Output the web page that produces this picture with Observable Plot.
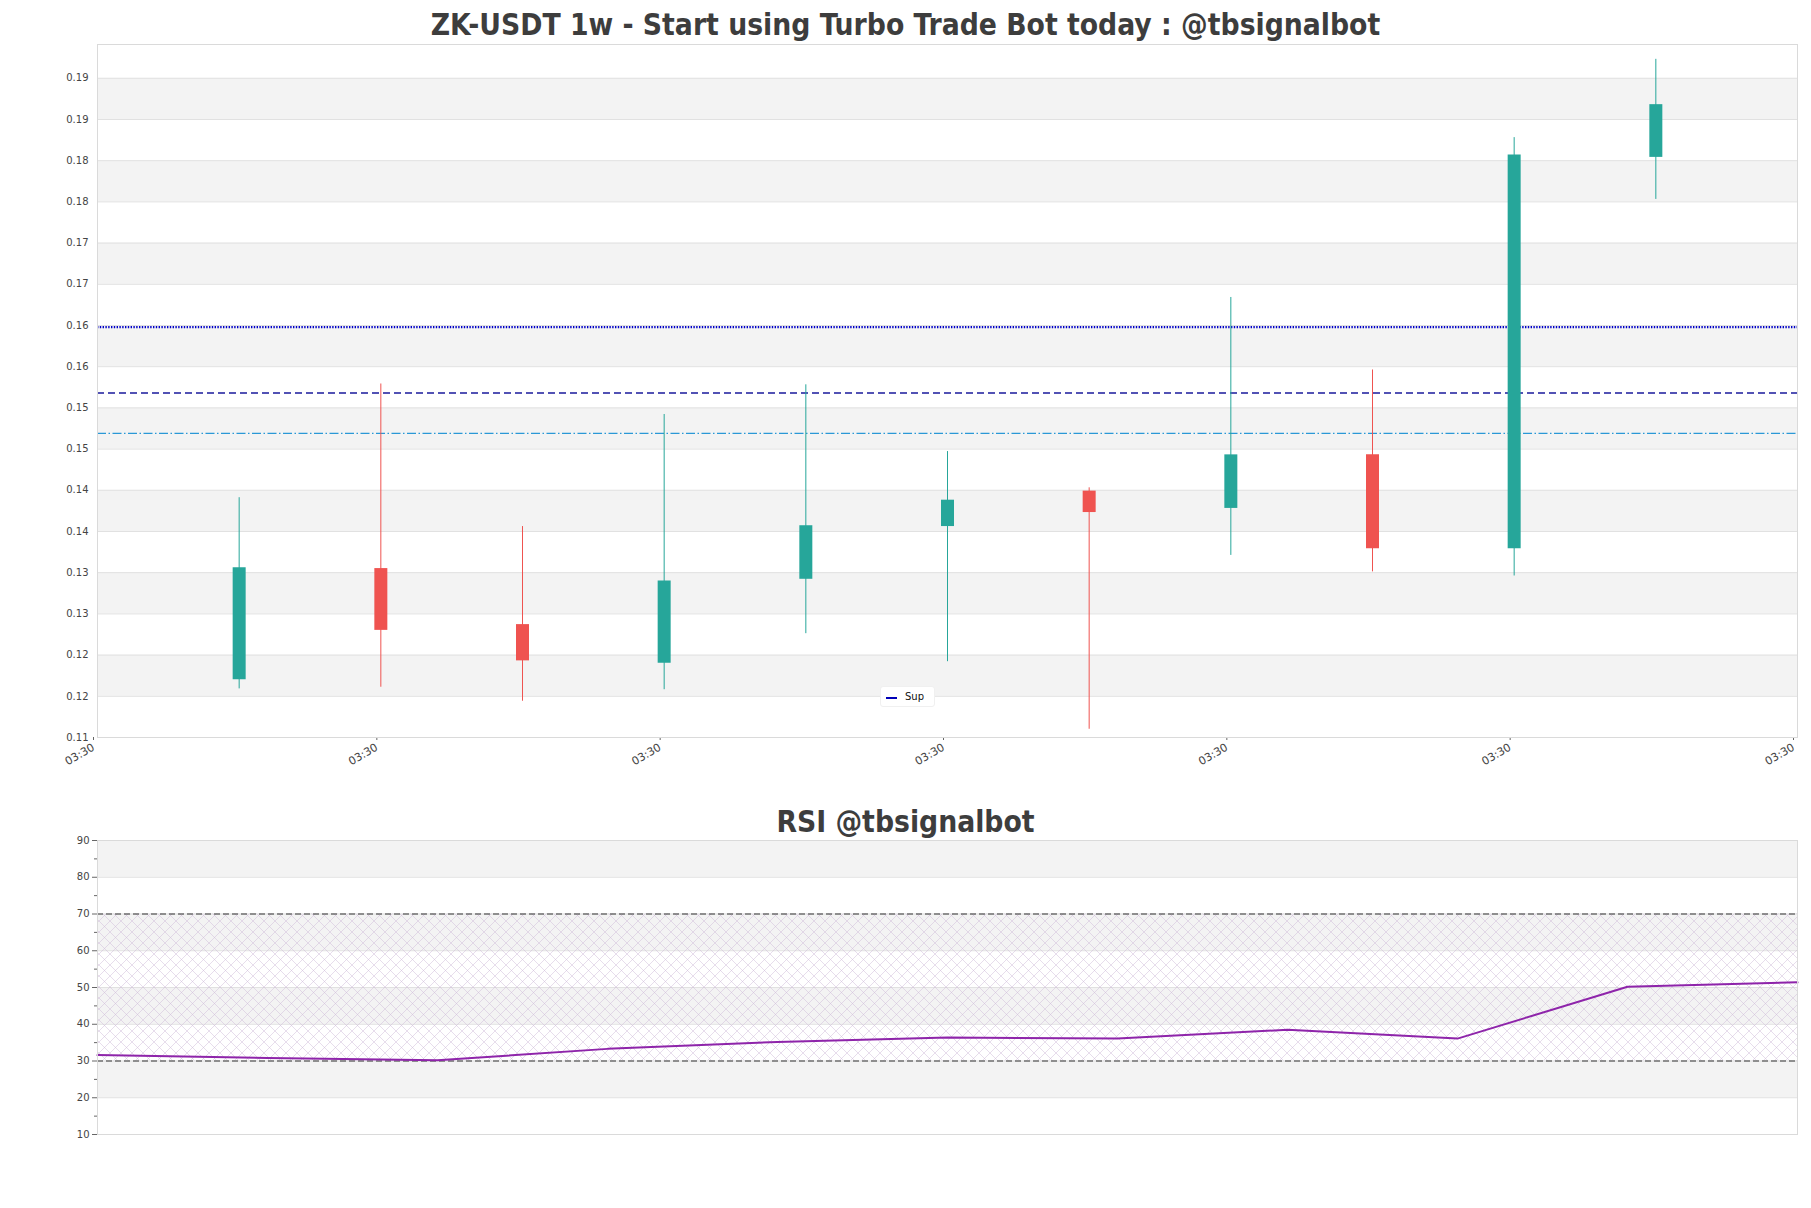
<!DOCTYPE html>
<html>
<head>
<meta charset="utf-8">
<script src="https://cdn.jsdelivr.net/npm/d3@7"></script>
<script src="https://cdn.jsdelivr.net/npm/@observablehq/plot@0.6"></script>
<style>
  html, body { margin: 0; padding: 0; background: #fff; }
  #root { position: relative; width: 1811px; height: 1208px; overflow: hidden; background: #fff; }
  .ttl { position: absolute; left: 0; width: 1811px; text-align: center; font-family: "DejaVu Sans Condensed", "DejaVu Sans", sans-serif; font-stretch: condensed; font-weight: bold; font-size: 29.7px; line-height: 30px; color: #3d3d3d; white-space: nowrap; }
  .panel { position: absolute; left: 0; }
  #legend { position: absolute; left: 880px; top: 686px; width: 55px; height: 21px; background: #fff; border: 1px solid #f0f0f0; border-radius: 3px; box-sizing: border-box; font-family: "DejaVu Sans", sans-serif; font-size: 10px; color: #111; }
  #legend .sw { position: absolute; left: 5px; top: 10px; width: 11px; height: 2px; background: #0000b8; }
  #legend .lb { position: absolute; left: 24px; top: 3px; line-height: 14px; }
</style>
</head>
<body>
<div id="root">
  <div class="ttl" style="top:10px">ZK-USDT 1w - Start using Turbo Trade Bot today : @tbsignalbot</div>
  <div class="panel" id="main" style="top:0px"></div>
  <div id="legend"><span class="sw"></span><span class="lb">Sup</span></div>
  <div class="ttl" style="top:807px">RSI @tbsignalbot</div>
  <div class="panel" id="rsi" style="top:800px"></div>
</div>
<script>
// ---------- data ----------
const weekDates = ["2024-09-02","2024-09-09","2024-09-16","2024-09-23","2024-09-30","2024-10-07","2024-10-14","2024-10-21","2024-10-28","2024-11-04","2024-11-11"];
const openPrices  = [0.1170, 0.1305, 0.1237, 0.1190, 0.1292, 0.1356, 0.1399, 0.1378, 0.1443, 0.1329, 0.1804];
const highPrices  = [0.1391, 0.1529, 0.1356, 0.1492, 0.1528, 0.1447, 0.1403, 0.1634, 0.1546, 0.1828, 0.1923];
const lowPrices   = [0.1159, 0.1161, 0.1144, 0.1158, 0.1226, 0.1192, 0.1110, 0.1321, 0.1301, 0.1296, 0.1753];
const closePrices = [0.1306, 0.1230, 0.1193, 0.1290, 0.1357, 0.1388, 0.1373, 0.1443, 0.1329, 0.1807, 0.1868];
const rsiValues   = [31.6, 30.8, 30.2, 33.3, 35.2, 36.4, 36.1, 38.5, 36.1, 50.2, 51.4];
const supLevel = [0.1598];
const resLevelA = [0.1518];
const resLevelB = [0.1469];
const rsiBounds = [30, 70];
const tzOffsetMinutes = 210; // labels shown at UTC+03:30
const yTickValues = d3.range(22, 39).map(k => k * 0.005);
const rsiTickValues = [10, 20, 30, 40, 50, 60, 70, 80, 90];
const rsiMinorTicks = [15, 25, 35, 45, 55, 65, 75, 85];

// ---------- derived tables ----------
const DAY = 864e5;
const dates = weekDates.map(s => new Date(s + "T00:00:00Z"));
const candles = dates.map((d, i) => ({date: d, open: openPrices[i], high: highPrices[i], low: lowPrices[i], close: closePrices[i]}));
const up = candles.filter(d => d.close >= d.open);
const down = candles.filter(d => d.close < d.open);
const xStart = new Date(+dates[0] - 7 * DAY);
const xEnd = new Date(+dates[dates.length - 1] + 7 * DAY);
const xTicks = d3.range(0, 7).map(k => new Date(+xStart + k * 14 * DAY));
const xFmt = d => d3.utcFormat("%H:%M")(new Date(+d + tzOffsetMinutes * 60e3));
const yFmt = v => { const k = Math.round(v * 1000); return (Math.floor((k + 5) / 10) / 100).toFixed(2); };
const priceBands = d3.range(0, yTickValues.length - 1).filter(i => i % 2 === 1).map(i => ({y1: yTickValues[i], y2: yTickValues[i + 1]}));
const rsiData = dates.map((d, i) => ({date: d, rsi: rsiValues[i]}));
const rsiBands = [[20, 30], [40, 50], [60, 70], [80, 90]].map(([a, b]) => ({y1: a, y2: b}));

const GREEN = "#26a69a", RED = "#ef5350";

const mainPlot = Plot.plot({
  width: 1811, height: 770,
  marginTop: 44, marginBottom: 33, marginLeft: 97, marginRight: 14,
  style: {fontFamily: "DejaVu Sans, sans-serif", fontSize: "10px", color: "#444", background: "transparent", overflow: "visible"},
  x: {type: "utc", domain: [xStart, xEnd], label: null},
  y: {domain: [0.110, 0.1941], ticks: yTickValues, tickFormat: yFmt, tickSize: 0, tickPadding: 9, label: null},
  marks: [
    Plot.rect(priceBands, {x1: () => xStart, x2: () => xEnd, y1: "y1", y2: "y2", fill: "#f3f3f3"}),
    Plot.ruleY(yTickValues, {stroke: "#e1e1e1", strokeWidth: 1}),
    Plot.ruleY(supLevel, {stroke: "#0000c8", strokeWidth: 2.2, strokeDasharray: "1.4,1.4"}),
    Plot.ruleY(resLevelA, {stroke: "#1a1a9c", strokeWidth: 1.4, strokeDasharray: "7,4"}),
    Plot.ruleY(resLevelB, {stroke: "#2a98d6", strokeWidth: 1.2, strokeDasharray: "9,2.5,1.5,2.5"}),
    Plot.ruleX(up, {x: "date", y1: "low", y2: "high", stroke: GREEN, strokeWidth: 1}),
    Plot.ruleX(down, {x: "date", y1: "low", y2: "high", stroke: RED, strokeWidth: 1}),
    Plot.ruleX(up, {x: "date", y1: "open", y2: "close", stroke: GREEN, strokeWidth: 13}),
    Plot.ruleX(down, {x: "date", y1: "open", y2: "close", stroke: RED, strokeWidth: 13}),
    Plot.axisX({ticks: xTicks, tickFormat: xFmt, tickRotate: -30, tickSize: 3, tickPadding: 6, fontSize: 11, dx: -4, label: null, stroke: "#666"}),
    Plot.frame({stroke: "#dadada"})
  ]
});
document.getElementById("main").appendChild(mainPlot);

const rsiPlot = Plot.plot({
  width: 1811, height: 354,
  marginTop: 40, marginBottom: 20, marginLeft: 97, marginRight: 14,
  style: {fontFamily: "DejaVu Sans, sans-serif", fontSize: "10px", color: "#444", background: "transparent", overflow: "visible"},
  x: {type: "utc", domain: [dates[0], dates[dates.length - 1]], axis: null},
  y: {domain: [10, 90], axis: null},
  marks: [
    Plot.rect(rsiBands, {x1: () => dates[0], x2: () => dates[dates.length - 1], y1: "y1", y2: "y2", fill: "#f3f3f3"}),
    Plot.ruleY(rsiTickValues, {stroke: "#e1e1e1", strokeWidth: 1}),
    Plot.rect([{y1: rsiBounds[0], y2: rsiBounds[1]}], {x1: () => dates[0], x2: () => dates[dates.length - 1], y1: "y1", y2: "y2", fill: "url(#rsiHatch)"}),
    Plot.ruleY(rsiBounds, {stroke: "#333", strokeWidth: 1.2, strokeDasharray: "6,3"}),
    Plot.line(rsiData, {x: "date", y: "rsi", stroke: "#8e24aa", strokeWidth: 2}),
    Plot.axisY({ticks: rsiTickValues, tickSize: 5, tickPadding: 3, label: null, stroke: "#666"}),
    Plot.axisY({ticks: rsiMinorTicks, tickSize: 3, tickFormat: () => "", label: null, stroke: "#666"}),
    Plot.frame({stroke: "#dadada"})
  ]
});
d3.select(rsiPlot).insert("defs", ":first-child").html(
  '<pattern id="rsiHatch" patternUnits="userSpaceOnUse" width="11" height="11">' +
  '<path d="M0,0L11,11M11,0L0,11M-1,10L1,12M10,-1L12,1" stroke="#cdb8d8" stroke-width="0.6" stroke-opacity="0.8" fill="none"/>' +
  '</pattern>');
document.getElementById("rsi").appendChild(rsiPlot);
</script>
</body>
</html>
